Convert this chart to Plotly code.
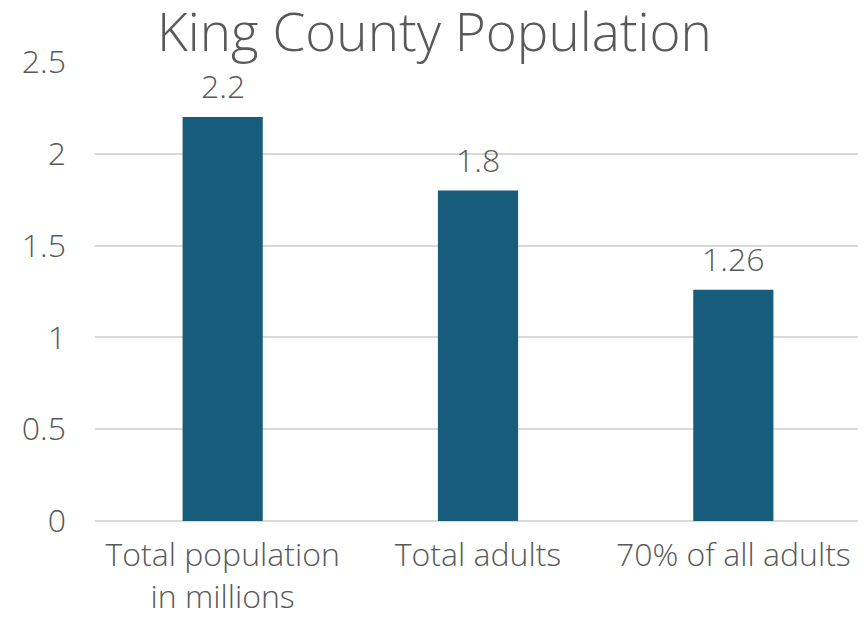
import plotly.graph_objects as go

categories = ["Total population<br>in millions", "Total adults", "70% of all adults"]
values = [2.2, 1.8, 1.26]
value_labels = ["2.2", "1.8", "1.26"]
y_ticks = [0, 0.5, 1, 1.5, 2, 2.5]
y_tick_labels = ["0", "0.5", "1", "1.5", "2", "2.5"]

FONT = "Open Sans"
TXT = "#595959"

fig = go.Figure(go.Bar(
    x=categories, y=values, marker_color="#175C7A",
    marker_line_width=0, width=0.314, hoverinfo="skip",
))
for c, v, t in zip(categories, values, value_labels):
    fig.add_annotation(x=c, y=v, text=t, showarrow=False, yanchor="bottom",
                       yshift=8, font=dict(family=FONT, size=32, color=TXT, weight=300))

fig.update_layout(
    width=858, height=609,
    margin=dict(l=87, r=5, t=54, b=96, autoexpand=False),
    paper_bgcolor="white", plot_bgcolor="white",
    title=dict(text="King County Population", x=0.497, xanchor="center",
               xref="container", yref="container",
               y=0.99, yanchor="top",
               font=dict(family=FONT, size=53, color=TXT, weight=300)),
    showlegend=False,
)
fig.update_xaxes(showgrid=False, showline=False, ticks="", automargin=False,
                 tickfont=dict(family=FONT, size=32, color=TXT, weight=300),
                 ticklabelstandoff=12)
fig.update_yaxes(range=[0, 2.5], tickvals=y_ticks, ticktext=y_tick_labels,
                 showgrid=True, gridcolor="#D9D9D9", gridwidth=1.5,
                 zeroline=True, zerolinecolor="#D9D9D9", zerolinewidth=1.5,
                 showline=False, ticks="", automargin=False,
                 tickfont=dict(family=FONT, size=32, color=TXT, weight=300),
                 ticklabelstandoff=28)

fig.write_html("out.html")
